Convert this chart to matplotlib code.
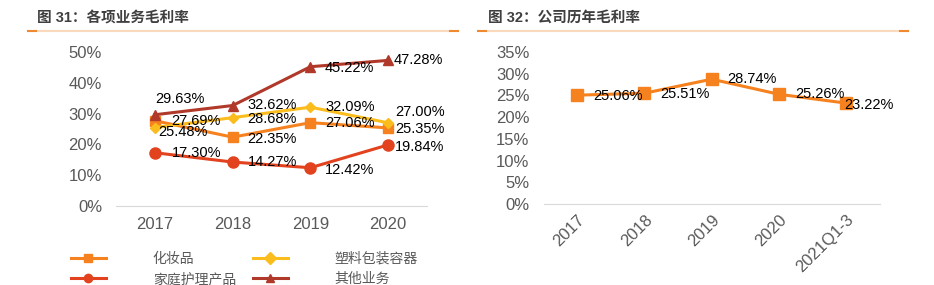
import matplotlib
matplotlib.use('Agg')
import matplotlib.pyplot as plt
from matplotlib.lines import Line2D

plt.rcParams['font.family'] = ['Liberation Sans', 'Noto Sans CJK SC', 'DejaVu Sans']

# %% data
years = ['2017', '2018', '2019', '2020']
cosmetics = [27.69, 22.35, 27.06, 25.35]
packaging = [25.48, 28.68, 32.09, 27.00]
home_care = [17.30, 14.27, 12.42, 19.84]
other_biz = [29.63, 32.62, 45.22, 47.28]
series_names = ['化妆品', '塑料包装容器', '家庭护理产品', '其他业务']

periods = ['2017', '2018', '2019', '2020', '2021Q1-3']
company_gm = [25.06, 25.51, 28.74, 25.26, 23.22]

# %% figure
W, H = 934, 285
fig = plt.figure(figsize=(W / 100, H / 100), dpi=100)

def fig_ax(x0, y_top, x1, y_bot):
    return fig.add_axes([x0 / W, 1 - y_bot / H, (x1 - x0) / W, (y_bot - y_top) / H])

tick_gray = '#595959'

def header(x_text, x0, x1, text):
    fig.text(x_text / W, 1 - 18 / H, text, fontsize=10.5, fontweight='bold',
             color='#3f3f3f', va='center', ha='left')
    fig.add_artist(Line2D([x0 / W, x1 / W], [1 - 31 / H] * 2, color='#fbd9bc', lw=1.5))
    fig.add_artist(Line2D([x0 / W, (x0 + 8) / W], [1 - 31 / H] * 2, color='#f08a30', lw=1.5))
    fig.add_artist(Line2D([(x1 - 8) / W, x1 / W], [1 - 31 / H] * 2, color='#f08a30', lw=1.5))

header(37, 28, 458, '图 31：各项业务毛利率')
header(488, 478, 908, '图 32：公司历年毛利率')

def style(ax, ymax, step, pad):
    for s in ['top', 'right', 'left']:
        ax.spines[s].set_visible(False)
    ax.spines['bottom'].set_color('#d9d9d9')
    ax.set_ylim(0, ymax)
    ax.set_yticks(range(0, ymax + 1, step))
    ax.set_yticklabels([f'{v}%' for v in range(0, ymax + 1, step)])
    ax.tick_params(length=0, labelsize=12, labelcolor=tick_gray)
    ax.tick_params(axis='y', pad=pad)
    ax.patch.set_alpha(0)

# %% left chart
ax1 = fig_ax(116, 52, 427, 206)
x = range(len(years))
lines = [
    (cosmetics, '#f5821f', 's', 6.5),
    (packaging, '#fbbd1d', 'D', 5.5),
    (home_care, '#e2431e', 'o', 8),
    (other_biz, '#b0392a', '^', 7.5),
]
handles = []
for (vals, c, m, ms), name in zip(lines, series_names):
    h, = ax1.plot(x, vals, color=c, marker=m, markersize=ms, lw=2.2, label=name)
    handles.append(h)
ax1.set_xlim(-0.5, 3.5)
ax1.set_xticks(list(x))
ax1.set_xticklabels(years)
style(ax1, 50, 10, 10)
ax1.tick_params(axis='x', pad=8)

# label offsets in pixels (dx, dy)
offs = {
    0: [(16, 0), (15, -2), (15, 0), (7, -1)],
    1: [(3, -4), (15, -1), (15, 0), (7, 11)],
    2: [(17, 0), (15, 0), (15, -2), (7, -2)],
    3: [(0, 16), (15, 1), (14, -1), (6, 0)],
}
for k, (vals, c, m, ms) in enumerate(lines):
    for i, v in enumerate(vals):
        dx, dy = offs[k][i]
        ax1.annotate(f'{v:.2f}%', (i, v), xytext=(dx, dy), textcoords='offset pixels',
                     ha='left', va='center', fontsize=10.5, color='black')

order = [0, 2, 1, 3]
leg = fig.legend([handles[i] for i in order], [series_names[i] for i in order],
                 ncol=2, loc='upper left', bbox_to_anchor=(64 / W, 1 - 245 / H),
                 frameon=False, fontsize=10, handlelength=2.5, handletextpad=3.4,
                 columnspacing=1.2, labelspacing=0.45, borderpad=0)
for t in leg.get_texts():
    t.set_color(tick_gray)
for lh in leg.legend_handles:
    lh.set_markersize(6)

# %% right chart
ax2 = fig_ax(543.5, 52, 880, 204)
x2 = range(len(periods))
ax2.plot(x2, company_gm, color='#f5821f', marker='s', markersize=8, lw=2.2)
ax2.set_xlim(-0.5, len(periods) - 0.5)
ax2.set_xticks(list(x2))
ax2.set_xticklabels(periods, rotation=45, ha='right', rotation_mode='anchor')
style(ax2, 35, 5, 10)
ax2.tick_params(axis='x', pad=6)
offs2 = [(16, -1), (16, -1), (16, 0), (16, 0), (-2, -2)]
for i, v in enumerate(company_gm):
    dx, dy = offs2[i]
    ax2.annotate(f'{v:.2f}%', (i, v), xytext=(dx, dy), textcoords='offset pixels',
                 ha='left', va='center', fontsize=10.5, color='black')

fig.savefig('out.png', dpi=100)
